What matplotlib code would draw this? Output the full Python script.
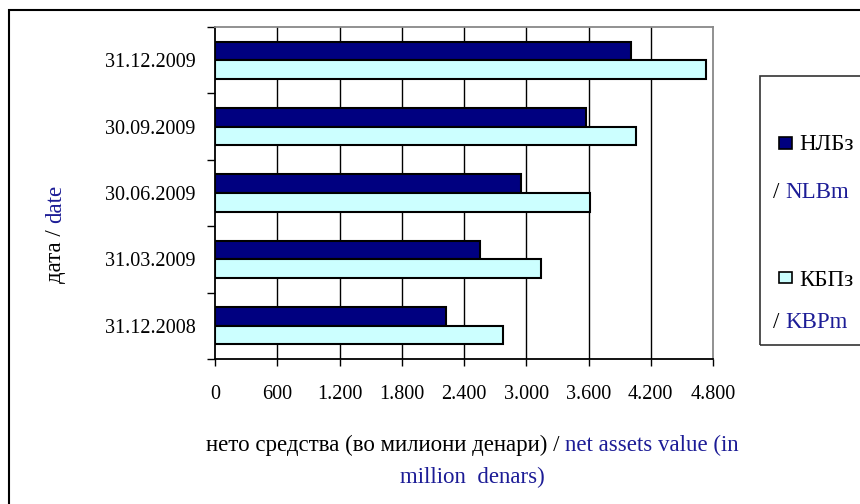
import matplotlib
matplotlib.use("Agg")
import matplotlib.pyplot as plt
from matplotlib.patches import Rectangle
from matplotlib.ticker import FixedLocator, FuncFormatter, NullFormatter
import numpy as np

# data (million denars)
dates = ["31.12.2008", "31.03.2009", "30.06.2009", "30.09.2009", "31.12.2009"]
nlb = [2228, 2555, 2954, 3578, 4011]
kbp = [2777, 3141, 3610, 4060, 4735]
xticks = [0, 600, 1200, 1800, 2400, 3000, 3600, 4200, 4800]

NAVY = "#000080"
CYAN = "#CCFFFF"
TXT_BLUE = "#1c1c96"
FS = 14.5      # tick labels
FS_T = 16.5    # axis titles and legend

plt.rcParams["font.family"] = ["Liberation Serif", "DejaVu Serif"]

W, H = 860, 504
fig = plt.figure(figsize=(W / 100, H / 100), dpi=100)
fig.patch.set_facecolor("white")


def fx(px):
    return px / W


def fy(py):
    return 1 - py / H


# outer chart frame (runs off right/bottom edge like the original)
fig.patches.append(Rectangle((fx(9), -0.02), 1.05, fy(10) + 0.02, transform=fig.transFigure,
                             fill=False, edgecolor="black", lw=1.5, zorder=0))

ax = fig.add_axes([fx(215), fy(359), fx(713) - fx(215), fy(27) - fy(359)])

y = np.arange(len(dates))
h = 0.28
ax.barh(y + h / 2, nlb, height=h, color=NAVY, edgecolor="black", lw=1.5, zorder=3)
ax.barh(y - h / 2, kbp, height=h, color=CYAN, edgecolor="black", lw=1.5, zorder=3)

ax.set_xlim(0, 4800)
ax.set_ylim(-0.5, len(dates) - 0.5)

ax.xaxis.set_major_locator(FixedLocator(xticks))
ax.xaxis.set_major_formatter(FuncFormatter(lambda v, p: f"{int(v):,}".replace(",", ".")))
for v in xticks[1:-1]:
    ax.axvline(v, color="black", lw=1, zorder=1)

ax.yaxis.set_major_locator(FixedLocator(np.arange(-0.5, len(dates), 1.0)))
ax.yaxis.set_major_formatter(NullFormatter())
ax.yaxis.set_minor_locator(FixedLocator(y))
ax.yaxis.set_minor_formatter(FuncFormatter(lambda v, p: dates[int(round(v))]))

ax.tick_params(axis="x", which="major", direction="out", length=5, width=1, pad=14, labelsize=FS)
ax.tick_params(axis="y", which="major", direction="out", length=6, width=1)
ax.tick_params(axis="y", which="minor", length=0, pad=14, labelsize=FS)

ax.spines["top"].set_color("#888888")
ax.spines["right"].set_color("#888888")
for s in ax.spines.values():
    s.set_linewidth(1.3)

renderer = fig.canvas.get_renderer()


def rainbow(parts, x0, y0, rotation=0, center=False):
    # lay out coloured pieces along a common baseline, in pixels
    texts = []
    for s, c in parts:
        t = fig.text(0, 0, s, color=c, fontsize=FS_T, rotation=rotation,
                     rotation_mode="anchor", ha="left", va="baseline")
        texts.append(t)
    sizes = []
    for t in texts:
        t.set_rotation(0)
        sizes.append(t.get_window_extent(renderer).width)
        t.set_rotation(rotation)
    total = sum(sizes)
    pos = x0 - total / 2 if (center and rotation == 0) else x0
    if rotation == 90:
        pos = y0 + total / 2 if center else y0
    for t, w in zip(texts, sizes):
        if rotation == 0:
            t.set_position((fx(pos), fy(y0)))
            pos += w
        else:
            t.set_position((fx(x0), fy(pos)))
            pos -= w
    return texts


# axis titles
rainbow([("нето средства (во милиони денари) / ", "black"), ("net assets value (in", TXT_BLUE)],
        472, 451, center=True)
rainbow([("million  denars)", TXT_BLUE)], 472, 483, center=True)
rainbow([("дата / ", "black"), ("date", TXT_BLUE)], 61, 234, rotation=90, center=True)

# legend
fig.patches.append(Rectangle((fx(760), fy(345)), 1.0, fy(76) - fy(345), transform=fig.transFigure,
                             fill=False, edgecolor="#333333", lw=1.2, zorder=0))
fig.patches.append(Rectangle((fx(779), fy(149)), fx(13), fy(137) - fy(149), transform=fig.transFigure,
                             facecolor=NAVY, edgecolor="black", lw=1.2))
fig.patches.append(Rectangle((fx(779), fy(283)), fx(13), fy(272) - fy(283), transform=fig.transFigure,
                             facecolor=CYAN, edgecolor="black", lw=1.2))
rainbow([("НЛБз", "black")], 799, 150)
rainbow([("/ ", "black"), ("NLBm", TXT_BLUE)], 773, 198)
rainbow([("КБПз", "black")], 799, 286)
rainbow([("/ ", "black"), ("KBPm", TXT_BLUE)], 773, 328)

fig.savefig("out.png", dpi=100)
